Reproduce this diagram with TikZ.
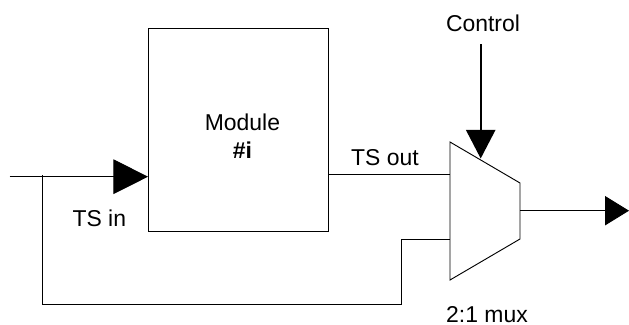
\documentclass[tikz,border=0pt]{standalone}
\usepackage{fontspec}
\setmainfont{Liberation Sans}
\usetikzlibrary{arrows.meta}
\tikzset{
  wire/.style={line width=0.7pt},
  txt/.style={inner sep=0pt,anchor=base,font=\fontsize{17.2}{21.2}\selectfont},
  inhead/.style={-{Triangle[length=26pt,width=26pt]}},
  ctrlhead/.style={-{Triangle[length=21.5pt,width=22pt]}},
  outhead/.style={-{Triangle[length=18pt,width=22pt]}}
}
\begin{document}
\begin{tikzpicture}[x=0.75pt,y=-0.75pt]
\useasboundingbox (0,0) rectangle (629,325);
\node[wire,draw,minimum width=134.6pt,minimum height=152.6pt,inner sep=0pt] (module) at (238.25,129.75) {};
\node[txt,align=center,anchor=center] (modulename) at (242.5,136.5) {Module\\\textbf{\#i}};
%
\coordinate (muxa) at (450,142);
\coordinate (muxb) at (520,183);
\coordinate (muxc) at (520,239);
\coordinate (muxd) at (450,280);
\draw[wire] (muxa)--(muxb)--(muxc)--(muxd)--cycle;
%
\coordinate (tsin) at (9.5,176.7);
\coordinate (tap) at (42.5,175);
\coordinate (fba) at (42.5,304);
\coordinate (fbb) at (401.5,304);
\coordinate (fbc) at (401.5,239.5);
\coordinate (fbd) at (450,239.5);
\coordinate (tsout) at (450,174.5);
\coordinate (ctrl) at (480.7,44);
\coordinate (ctrltip) at (480.7,158.5);
\coordinate (muxout) at (520,210.7);
\coordinate (outtip) at (629,210.7);
%
\draw[wire,inhead] (tsin)--(tsin -| module.west);
\draw[wire] (tap)--(fba)--(fbb)--(fbc)--(fbd);
\draw[wire] (tsout -| module.east)--(tsout);
\draw[line width=1.3pt,ctrlhead] (ctrl)--(ctrltip);
\draw[wire,outhead] (muxout)--(outtip);
%
\node[txt] (tsinlabel) at (99.3,226.7) {TS in};
\node[txt] (tsoutlabel) at (385,165.7) {TS out};
\node[txt] (controllabel) at (483,31.7) {Control};
\node[txt] (muxlabel) at (487,322) {2:1 mux};
\end{tikzpicture}
\end{document}
